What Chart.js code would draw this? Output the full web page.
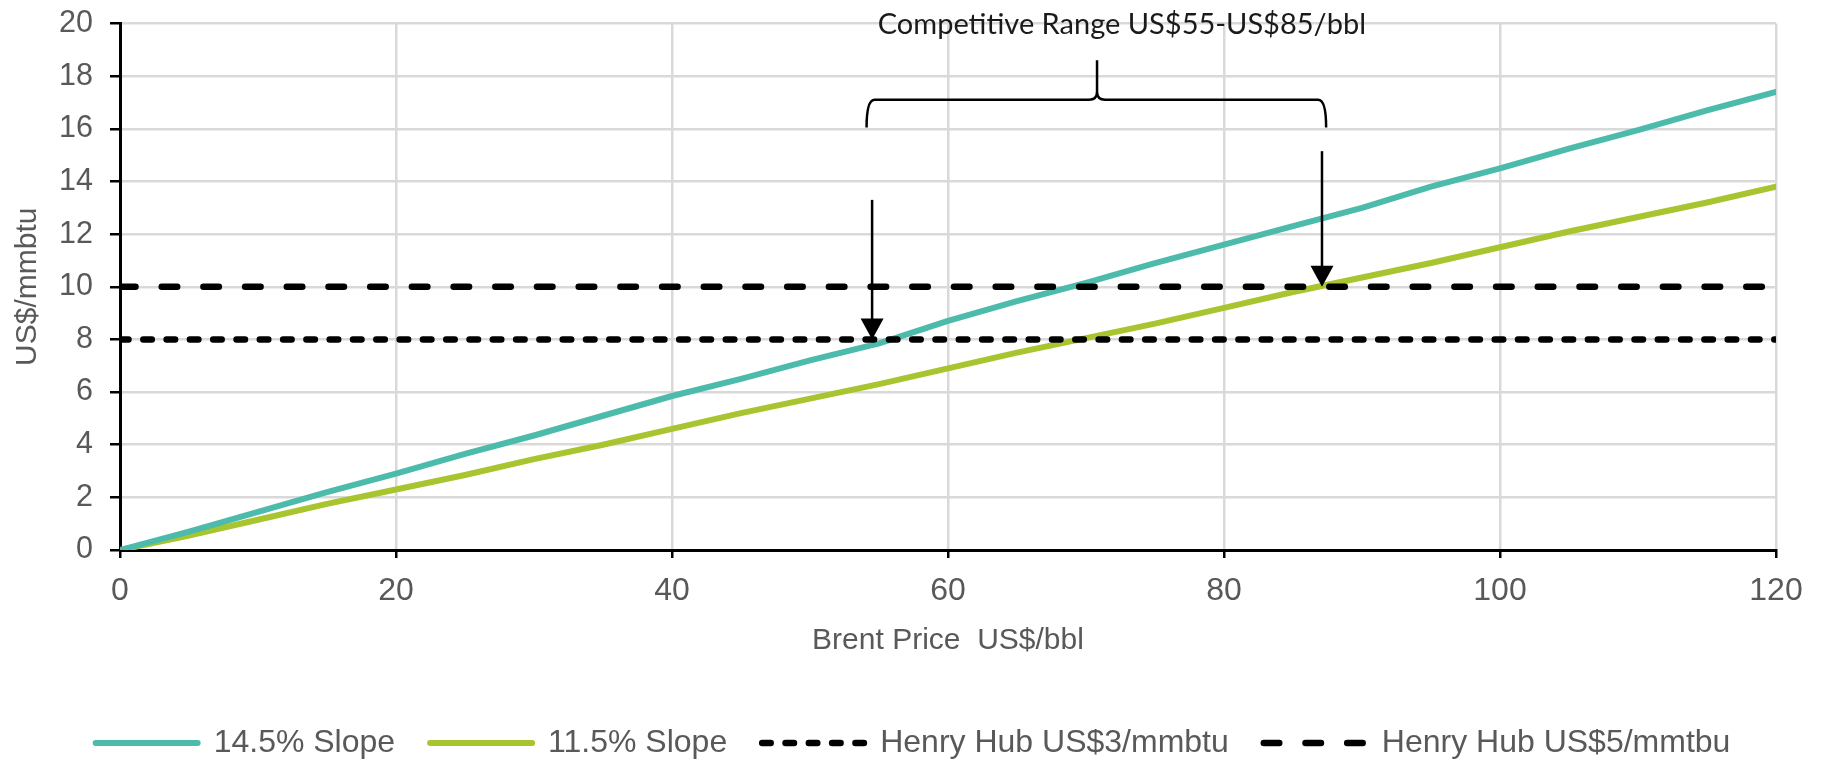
<!DOCTYPE html>
<html>
<head>
<meta charset="utf-8">
<title>LNG price competitiveness</title>
<script src="https://cdn.jsdelivr.net/npm/chart.js@4/dist/chart.umd.min.js"></script>
<style>
  html, body { margin: 0; padding: 0; background: #ffffff; }
  #wrap { width: 1826px; height: 760px; }
</style>
</head>
<body>
<div id="wrap"><canvas id="chart" width="1826" height="760"></canvas></div>
<script>
// Brent price points (US$/bbl) and the LNG price for each contract slope (US$/mmbtu)
const brentPrice = [0, 5, 10, 15, 20, 25, 30, 35, 40, 45, 50, 55, 60, 65, 70, 75, 80, 85, 90, 95, 100, 105, 110, 115, 120];
const slope145 = [0, 0.7, 1.45, 2.2, 2.9, 3.65, 4.35, 5.1, 5.85, 6.5, 7.2, 7.85, 8.7, 9.45, 10.15, 10.9, 11.6, 12.3, 13.0, 13.8, 14.5, 15.25, 15.95, 16.7, 17.4];
const slope115 = [0, 0.55, 1.15, 1.75, 2.3, 2.85, 3.45, 4.0, 4.6, 5.2, 5.75, 6.3, 6.9, 7.5, 8.05, 8.6, 9.2, 9.8, 10.35, 10.9, 11.5, 12.1, 12.65, 13.2, 13.8];

// Henry Hub based delivered cost, flat across the Brent range
const henryHubX = [0, 120];
const henryHub3 = [8, 8];
const henryHub5 = [10, 10];

// Series names
const seriesNames = ['14.5% Slope', '11.5% Slope', 'Henry Hub US$3/mmbtu', 'Henry Hub US$5/mmtbu'];

// Axis ticks and titles
const xTicks = [0, 20, 40, 60, 80, 100, 120];
const yTicks = [0, 2, 4, 6, 8, 10, 12, 14, 16, 18, 20];
const xTitle = 'Brent Price  US$/bbl';
const yTitle = 'US$/mmbtu';

// Competitive range call-out (data coordinates)
const rangeLabel = 'Competitive Range US$55-US$85/bbl';
const rangeLabelAt = [72.6, 19.95];
const arrowX = [54.5, 87.1];
const arrowFrom = [13.3, 15.15];
const arrowTo = [8, 10];
const braceX = [54.1, 70.8, 87.4];   // left end, centre point, right end
const braceY = [16.05, 17.1, 18.6];  // hook ends, bar, centre point top

const TEAL = '#4dbbab';
const LIME = '#a8c52f';
const GREY_TEXT = '#595959';
const FONT = "'Liberation Sans', Arial, sans-serif";

const toPoints = (xs, ys) => xs.map((v, i) => ({ x: v, y: ys[i] }));

const rangeNote = {
  id: 'rangeNote',
  afterDatasetsDraw(chart) {
    const { ctx, scales: { x, y } } = chart;
    ctx.save();
    ctx.strokeStyle = '#000';
    ctx.fillStyle = '#000';
    ctx.lineWidth = 2.5;
    ctx.setLineDash([]);

    // arrows pointing at the break-even crossings
    arrowX.forEach((v, i) => {
      const px = x.getPixelForValue(v);
      const top = y.getPixelForValue(arrowFrom[i]);
      const tip = y.getPixelForValue(arrowTo[i]);
      const head = 21, half = 11.5;
      ctx.beginPath();
      ctx.moveTo(px, top);
      ctx.lineTo(px, tip - head + 2);
      ctx.stroke();
      ctx.beginPath();
      ctx.moveTo(px - half, tip - head);
      ctx.lineTo(px + half, tip - head);
      ctx.lineTo(px, tip);
      ctx.closePath();
      ctx.fill();
    });

    // curly brace over the range
    const xl = x.getPixelForValue(braceX[0]);
    const xc = x.getPixelForValue(braceX[1]);
    const xr = x.getPixelForValue(braceX[2]);
    const yEnd = y.getPixelForValue(braceY[0]);
    const yBar = y.getPixelForValue(braceY[1]);
    const yTip = y.getPixelForValue(braceY[2]);
    const r = 8;
    ctx.beginPath();
    ctx.moveTo(xl, yEnd);
    ctx.quadraticCurveTo(xl, yBar, xl + r, yBar);
    ctx.lineTo(xc - r, yBar);
    ctx.quadraticCurveTo(xc, yBar, xc, yBar - r);
    ctx.lineTo(xc, yTip);
    ctx.moveTo(xc, yBar - r);
    ctx.quadraticCurveTo(xc, yBar, xc + r, yBar);
    ctx.lineTo(xr - r, yBar);
    ctx.quadraticCurveTo(xr, yBar, xr, yEnd);
    ctx.stroke();

    // label
    ctx.fillStyle = '#1a1a1a';
    ctx.font = "29px Lato, 'Open Sans', sans-serif";
    ctx.textAlign = 'center';
    ctx.textBaseline = 'middle';
    ctx.fillText(rangeLabel, x.getPixelForValue(rangeLabelAt[0]), y.getPixelForValue(rangeLabelAt[1]));
    ctx.restore();
  }
};

Chart.defaults.font.family = FONT;
Chart.defaults.color = GREY_TEXT;

// legend swatches take their stroke from the dataset line (width, dash, caps)
const legendLabels = chart => {
  const items = Chart.defaults.plugins.legend.labels.generateLabels(chart);
  items.forEach(it => {
    const ds = chart.data.datasets[it.datasetIndex];
    it.strokeStyle = ds.borderColor;
    it.lineWidth = ds.borderWidth;
    it.lineDash = ds.borderDash || [];
    it.lineCap = ds.borderCapStyle || 'butt';
  });
  return items.sort((a, b) => a.datasetIndex - b.datasetIndex);
};

new Chart(document.getElementById('chart'), {
  type: 'line',
  data: {
    datasets: [
      {
        label: seriesNames[0],
        data: toPoints(brentPrice, slope145),
        borderColor: TEAL, backgroundColor: TEAL,
        borderWidth: 6, pointRadius: 0, tension: 0,
        borderCapStyle: 'round', borderJoinStyle: 'round',
        order: 1
      },
      {
        label: seriesNames[1],
        data: toPoints(brentPrice, slope115),
        borderColor: LIME, backgroundColor: LIME,
        borderWidth: 6, pointRadius: 0, tension: 0,
        borderCapStyle: 'round', borderJoinStyle: 'round',
        order: 2
      },
      {
        label: seriesNames[2],
        data: toPoints(henryHubX, henryHub3),
        borderColor: '#000', backgroundColor: '#000',
        borderWidth: 6.5, pointRadius: 0,
        borderDash: [8.5, 14.8], borderCapStyle: 'round',
        order: 0
      },
      {
        label: seriesNames[3],
        data: toPoints(henryHubX, henryHub5),
        borderColor: '#000', backgroundColor: '#000',
        borderWidth: 6.5, pointRadius: 0,
        borderDash: [15.5, 26.2], borderCapStyle: 'round',
        order: 0
      }
    ]
  },
  options: {
    responsive: false,
    animation: false,
    layout: { padding: { top: 23.5, left: 0, right: 0, bottom: -9 } },
    plugins: {
      tooltip: { enabled: false },
      legend: {
        position: 'bottom',
        labels: {
          usePointStyle: true,
          pointStyle: 'line',
          pointStyleWidth: 102,
          padding: 35,
          color: GREY_TEXT,
          font: { size: 32, family: FONT },
          generateLabels: legendLabels
        }
      }
    },
    scales: {
      x: {
        type: 'linear',
        min: 0, max: 120,
        afterBuildTicks: s => { s.ticks = xTicks.map(v => ({ value: v })); },
        afterFit: s => { s.height = 142; },
        ticks: { font: { size: 32 }, color: GREY_TEXT, padding: 14, maxRotation: 0, autoSkip: false },
        grid: { color: '#d9d9d9', lineWidth: 2.5, tickColor: '#000', tickLength: 8, tickWidth: 2.5 },
        border: { color: '#000', width: 3 },
        title: { display: true, text: xTitle, color: GREY_TEXT, font: { size: 30 }, padding: { top: 0, bottom: 33 } }
      },
      y: {
        type: 'linear',
        min: 0, max: 20,
        afterBuildTicks: s => { s.ticks = yTicks.map(v => ({ value: v })); },
        afterFit: s => { s.width = 120; s.paddingTop = 0; s.paddingBottom = 0; },
        ticks: { font: { size: 30.5 }, color: GREY_TEXT, padding: 17 },
        grid: { color: '#d9d9d9', lineWidth: 2.5, tickColor: '#000', tickLength: 10, tickWidth: 2.5 },
        border: { color: '#000', width: 3 },
        title: { display: true, text: yTitle, color: GREY_TEXT, font: { size: 30 }, padding: { top: 10, bottom: 0 } }
      },
      gutter: {
        type: 'linear',
        position: 'right',
        display: true,
        afterFit: s => { s.width = 50; s.paddingTop = 0; s.paddingBottom = 0; },
        ticks: { display: false },
        grid: { display: false },
        border: { display: false }
      }
    }
  },
  plugins: [rangeNote]
});
</script>
</body>
</html>
